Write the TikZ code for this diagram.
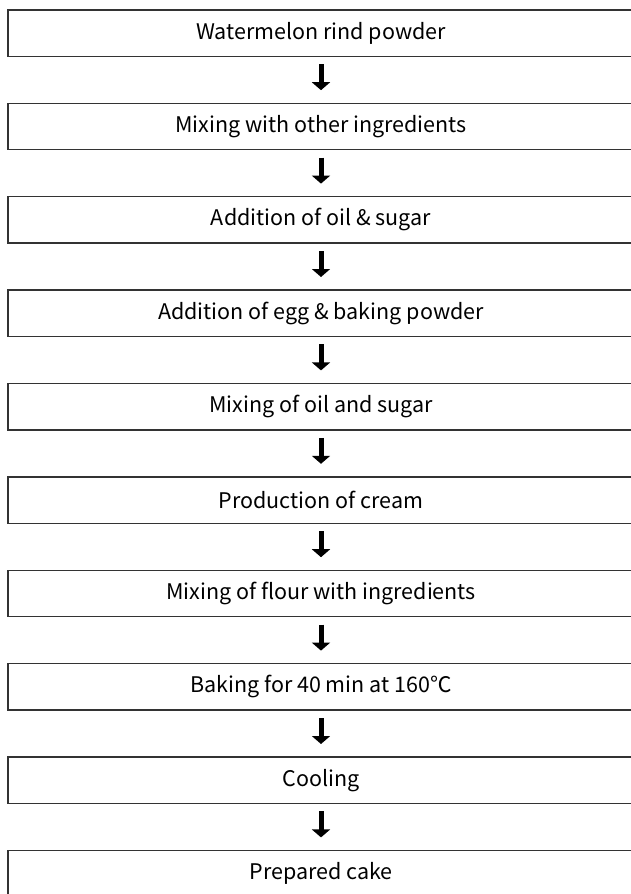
\documentclass[tikz,border=0pt]{standalone}
\usepackage{fontspec}
\newfontfamily\krfont{Noto Sans CJK KR}
\usetikzlibrary{positioning}
\usetikzlibrary{arrows.meta}

\tikzset{
  boxline/.style={draw=black!80,line width=1.4pt},
  stepbox/.style={minimum width=626pt,minimum height=46pt,inner sep=0pt,font=\krfont\fontsize{21.5}{25}\selectfont,
    append after command={\pgfextra{\draw[boxline] (\tikzlastnode.north west) rectangle ([xshift=40pt]\tikzlastnode.south east);}}},
  downarrow/.style={line width=5pt,-{Triangle[width=18pt,length=8pt]},shorten <=8pt,shorten >=13pt}
}

\begin{document}
\begin{tikzpicture}[x=1pt,y=1pt]
  % Boundary
  \path[use as bounding box] (0,0) rectangle (630,-894);
  % Steps
  \node[stepbox] (s1) at (321,-33) {Watermelon rind powder};
  \node[stepbox,below=47pt of s1] (s2) {Mixing with other ingredients};
  \node[stepbox,below=47pt of s2] (s3) {Addition of oil \& sugar};
  \node[stepbox,below=47pt of s3] (s4) {Addition of egg \& baking powder};
  \node[stepbox,below=47pt of s4] (s5) {Mixing of oil and sugar};
  \node[stepbox,below=47pt of s5] (s6) {Production of cream};
  \node[stepbox,below=47pt of s6] (s7) {Mixing of flour with ingredients};
  \node[stepbox,below=47pt of s7] (s8) {Baking for 40 min at 160℃};
  \node[stepbox,below=47pt of s8] (s9) {Cooling};
  \node[stepbox,below=47pt of s9] (s10) {Prepared cake};
  % Arrows
  \foreach \i [count=\j from 2] in {1,...,9}
    \draw[downarrow] (s\i) -- (s\j);
\end{tikzpicture}
\end{document}
